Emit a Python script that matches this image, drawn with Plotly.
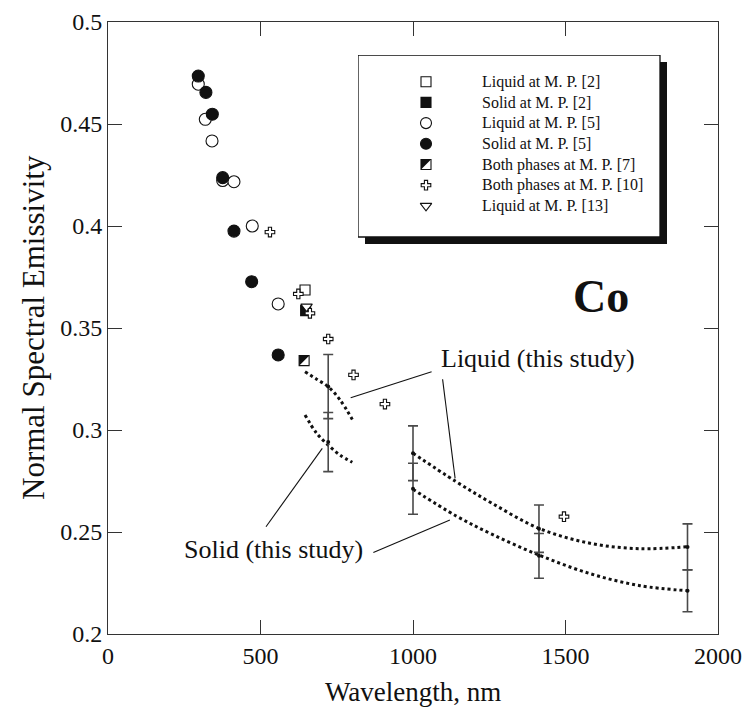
import plotly.graph_objects as go

# ---- literature values at the melting point (wavelength nm, emissivity) ----
liq2_x, liq2_y = [646], [0.3686]
sol2_x, sol2_y = [648], [0.3585]
liq5_x = [296, 319, 341, 376, 413, 473, 558]
liq5_y = [0.4695, 0.4523, 0.4417, 0.4223, 0.4217, 0.4000, 0.3618]
sol5_x = [296, 321, 342, 376, 413, 471, 558]
sol5_y = [0.4735, 0.4655, 0.4548, 0.4237, 0.3975, 0.3727, 0.3368]
both7_x, both7_y = [643], [0.3340]
both10_x = [531, 624, 662, 722, 805, 908, 1495]
both10_y = [0.3970, 0.3667, 0.3572, 0.3446, 0.3270, 0.3127, 0.2575]
liq13_x, liq13_y = [651], [0.3605]

# ---- this study: fitted curves ----
liq_short_x = [646, 684, 722, 761, 801]
liq_short_y = [0.3286, 0.3249, 0.3212, 0.3147, 0.3052]
sol_short_x = [646, 684, 722, 761, 801]
sol_short_y = [0.3074, 0.2984, 0.2926, 0.2877, 0.2842]
liq_long_x = [1000, 1140, 1260, 1413, 1580, 1744, 1900]
liq_long_y = [0.2886, 0.2748, 0.2640, 0.2518, 0.2445, 0.2418, 0.2428]
sol_long_x = [1000, 1140, 1260, 1413, 1580, 1744, 1900]
sol_long_y = [0.2709, 0.2580, 0.2488, 0.2387, 0.2296, 0.2237, 0.2212]

# ---- this study: uncertainty bars ----
bar_x = [722, 1000, 1413, 1900]
liq_bar_y = [0.3213, 0.2886, 0.2516, 0.2427]
liq_bar_err = [0.0157, 0.0134, 0.0116, 0.0113]
sol_bar_y = [0.2941, 0.2712, 0.2383, 0.2212]
sol_bar_err = [0.0145, 0.0125, 0.0110, 0.0103]

x_ticks = [0, 500, 1000, 1500, 2000]
y_ticks = [0.2, 0.25, 0.3, 0.35, 0.4, 0.45, 0.5]
y_tick_text = ["0.2", "0.25", "0.3", "0.35", "0.4", "0.45", "0.5"]

legend_labels = [
    "Liquid at M. P. [2]",
    "Solid at M. P. [2]",
    "Liquid at M. P. [5]",
    "Solid at M. P. [5]",
    "Both phases at M. P. [7]",
    "Both phases at M. P. [10]",
    "Liquid at M. P. [13]",
]

SERIF = "Liberation Serif"
INK = "#111111"
BAR = "#4a4a4a"

fig = go.Figure()

# fitted curves (dotted)
for cx, cy in [(liq_short_x, liq_short_y), (sol_short_x, sol_short_y),
               (liq_long_x, liq_long_y), (sol_long_x, sol_long_y)]:
    fig.add_trace(go.Scatter(
        x=cx, y=cy, mode="lines", line=dict(color=INK, width=3, dash="dot", shape="spline"),
        showlegend=False, hoverinfo="skip"))

# uncertainty bars
for by, be in [(liq_bar_y, liq_bar_err), (sol_bar_y, sol_bar_err)]:
    fig.add_trace(go.Scatter(
        x=bar_x, y=by, mode="markers", marker=dict(color=INK, size=4),
        error_y=dict(type="data", array=be, visible=True, color=BAR, thickness=1.6, width=5),
        showlegend=False))

# literature markers
def pts(x, y, symbol, size, fill, lw=1.1):
    fig.add_trace(go.Scatter(
        x=x, y=y, mode="markers", showlegend=False,
        marker=dict(symbol=symbol, size=size, color=fill, line=dict(color=INK, width=lw))))

pts(liq5_x, liq5_y, "circle", 12, "white")
pts(sol5_x, sol5_y, "circle", 12, INK)
pts(liq2_x, liq2_y, "square", 10, "white")
pts(sol2_x, sol2_y, "square", 10, INK)
pts(both7_x, both7_y, "square", 10, "white")
pts(liq13_x, liq13_y, "triangle-down", 10, "white")
pts(both10_x, both10_y, "cross", 8, "white")

shapes = []

# upper-left half fill of the "both phases" square
def half_fill(xref, yref, xv, yv, s=5):
    shapes.append(dict(type="path", xref=xref, yref=yref, xsizemode="pixel", ysizemode="pixel",
                       xanchor=xv, yanchor=yv,
                       path=f"M {-s} {s} L {s} {s} L {-s} {-s} Z",
                       fillcolor=INK, line=dict(width=0)))

for xv, yv in zip(both7_x, both7_y):
    half_fill("x", "y", xv, yv)

# leader lines for the curve labels
leaders = [
    (795.7, 0.3158, 1061, 0.3286),
    (1097, 0.3249, 1138, 0.2763),
    (518, 0.2526, 702.6, 0.2910),
    (870, 0.2399, 1121, 0.2559),
]
for x0, y0, x1, y1 in leaders:
    shapes.append(dict(type="line", xref="x", yref="y", x0=x0, y0=y0, x1=x1, y1=y1,
                       line=dict(color=INK, width=1.1)))

# ---- legend panel on its own pixel-scaled axes ----
LW, LH, SH = 302, 182, 7
shapes.append(dict(type="rect", xref="x2", yref="y2", x0=SH, x1=LW + SH, y0=SH, y1=LH + SH,
                   fillcolor=INK, line=dict(width=0), layer="below"))
shapes.append(dict(type="rect", xref="x2", yref="y2", x0=0, x1=LW, y0=0, y1=LH,
                   fillcolor="white", line=dict(color=INK, width=1.3), layer="below"))

row_y = [26.7 + 20.7 * i for i in range(len(legend_labels))]
sym_x = 68
leg_specs = [("square", 10, "white"), ("square", 10, INK), ("circle", 11, "white"),
             ("circle", 11, INK), ("square", 10, "white"), ("cross", 8, "white"),
             ("triangle-down", 10, "white")]
for (sym, sz, fc), ry in zip(leg_specs, row_y):
    fig.add_trace(go.Scatter(
        x=[sym_x], y=[ry], xaxis="x2", yaxis="y2", mode="markers", showlegend=False,
        marker=dict(symbol=sym, size=sz, color=fc, line=dict(color=INK, width=1.1))))
half_fill("x2", "y2", sym_x, row_y[4])

# plot area in pixels: x 108..718, y 22..634
PL, PR, PT, PB = 108, 718, 22, 634
W, H = 744, 713
pw, ph = PR - PL, PB - PT
lx0, lx1 = 358, 358 + LW + SH
ly0, ly1 = 55, 55 + LH + SH

annotations = []
for lab, ry in zip(legend_labels, row_y):
    annotations.append(dict(xref="x2", yref="y2", x=122, y=ry, text=lab, showarrow=False,
                            xanchor="left", yanchor="middle",
                            font=dict(family=SERIF, size=16, color=INK)))

annotations += [
    dict(xref="x", yref="y", x=1085, y=0.335, text="Liquid (this study)", showarrow=False,
         xanchor="left", yanchor="middle", font=dict(family=SERIF, size=26, color=INK)),
    dict(xref="x", yref="y", x=244, y=0.2412, text="Solid (this study)", showarrow=False,
         xanchor="left", yanchor="middle", font=dict(family=SERIF, size=26, color=INK)),
    dict(xref="x", yref="y", x=1615, y=0.3652, text="<b>Co</b>", showarrow=False,
         xanchor="center", yanchor="middle", font=dict(family=SERIF, size=46, color=INK)),
    # axis titles
    dict(xref="paper", yref="paper", x=0.5, y=(PB - 692) / ph, text="Wavelength, nm",
         showarrow=False, xanchor="center", yanchor="middle",
         font=dict(family=SERIF, size=27, color=INK)),
    dict(xref="paper", yref="paper", x=(33 - PL) / pw, y=0.5, text="Normal Spectral Emissivity",
         textangle=-90, showarrow=False, xanchor="center", yanchor="middle",
         font=dict(family=SERIF, size=31, color=INK)),
]

axis_common = dict(showgrid=False, zeroline=False, showline=True, linecolor="#333333",
                   linewidth=1, mirror="ticks", ticks="inside", ticklen=14, tickcolor="#333333",
                   tickwidth=1, tickfont=dict(family=SERIF, size=24, color=INK),
                   automargin=False)

fig.update_layout(
    width=W, height=H,
    margin=dict(l=PL, r=W - PR, t=PT, b=H - PB),
    paper_bgcolor="white", plot_bgcolor="white",
    showlegend=False,
    xaxis=dict(range=[0, 2000], tickvals=x_ticks, **axis_common),
    yaxis=dict(range=[0.2, 0.5], tickvals=y_ticks, ticktext=y_tick_text, **axis_common),
    xaxis2=dict(domain=[(lx0 - PL) / pw, (lx1 - PL) / pw], range=[0, LW + SH],
                anchor="y2", visible=False, fixedrange=True),
    yaxis2=dict(domain=[(PB - ly1) / ph, (PB - ly0) / ph], range=[LH + SH, 0],
                anchor="x2", visible=False, fixedrange=True),
    shapes=shapes,
    annotations=annotations,
)

fig.write_html("out.html")
